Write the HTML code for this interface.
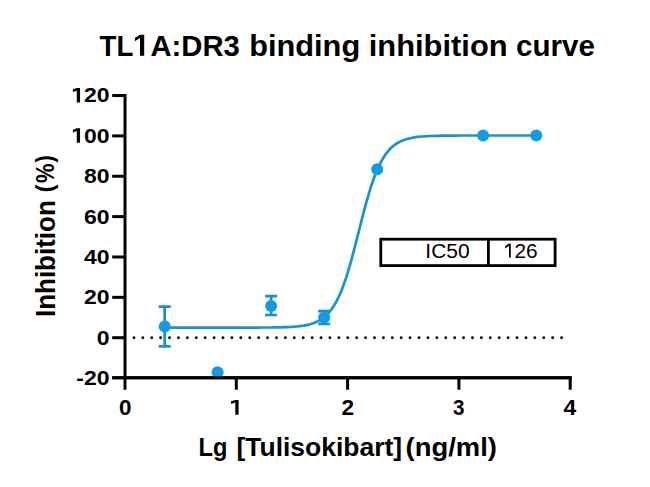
<!DOCTYPE html>
<html><head><meta charset="utf-8"><style>
html,body{margin:0;padding:0;background:#fff;}
body{width:650px;height:487px;overflow:hidden;font-family:"Liberation Sans",sans-serif;}
svg{display:block;}
</style></head><body>
<svg width="650" height="487" viewBox="0 0 650 487">
<g fill="#111"><circle cx="133.90" cy="337.7" r="1.45"/><circle cx="142.81" cy="337.7" r="1.45"/><circle cx="151.72" cy="337.7" r="1.45"/><circle cx="160.63" cy="337.7" r="1.45"/><circle cx="169.54" cy="337.7" r="1.45"/><circle cx="178.45" cy="337.7" r="1.45"/><circle cx="187.36" cy="337.7" r="1.45"/><circle cx="196.27" cy="337.7" r="1.45"/><circle cx="205.18" cy="337.7" r="1.45"/><circle cx="214.09" cy="337.7" r="1.45"/><circle cx="223.00" cy="337.7" r="1.45"/><circle cx="231.91" cy="337.7" r="1.45"/><circle cx="240.82" cy="337.7" r="1.45"/><circle cx="249.73" cy="337.7" r="1.45"/><circle cx="258.64" cy="337.7" r="1.45"/><circle cx="267.55" cy="337.7" r="1.45"/><circle cx="276.46" cy="337.7" r="1.45"/><circle cx="285.37" cy="337.7" r="1.45"/><circle cx="294.28" cy="337.7" r="1.45"/><circle cx="303.19" cy="337.7" r="1.45"/><circle cx="312.10" cy="337.7" r="1.45"/><circle cx="321.01" cy="337.7" r="1.45"/><circle cx="329.92" cy="337.7" r="1.45"/><circle cx="338.83" cy="337.7" r="1.45"/><circle cx="347.74" cy="337.7" r="1.45"/><circle cx="356.65" cy="337.7" r="1.45"/><circle cx="365.56" cy="337.7" r="1.45"/><circle cx="374.47" cy="337.7" r="1.45"/><circle cx="383.38" cy="337.7" r="1.45"/><circle cx="392.29" cy="337.7" r="1.45"/><circle cx="401.20" cy="337.7" r="1.45"/><circle cx="410.11" cy="337.7" r="1.45"/><circle cx="419.02" cy="337.7" r="1.45"/><circle cx="427.93" cy="337.7" r="1.45"/><circle cx="436.84" cy="337.7" r="1.45"/><circle cx="445.75" cy="337.7" r="1.45"/><circle cx="454.66" cy="337.7" r="1.45"/><circle cx="463.57" cy="337.7" r="1.45"/><circle cx="472.48" cy="337.7" r="1.45"/><circle cx="481.39" cy="337.7" r="1.45"/><circle cx="490.30" cy="337.7" r="1.45"/><circle cx="499.21" cy="337.7" r="1.45"/><circle cx="508.12" cy="337.7" r="1.45"/><circle cx="517.03" cy="337.7" r="1.45"/><circle cx="525.94" cy="337.7" r="1.45"/><circle cx="534.85" cy="337.7" r="1.45"/><circle cx="543.76" cy="337.7" r="1.45"/><circle cx="552.67" cy="337.7" r="1.45"/><circle cx="561.58" cy="337.7" r="1.45"/></g>
<g stroke="#000" stroke-width="3" fill="none" stroke-linecap="butt">
<path d="M125 94 V389.7"/>
<path d="M112.2 377.8 H571.7"/>
<path d="M112.2 337.70 H125"/>
<path d="M112.2 297.34 H125"/>
<path d="M112.2 256.98 H125"/>
<path d="M112.2 216.62 H125"/>
<path d="M112.2 176.26 H125"/>
<path d="M112.2 135.90 H125"/>
<path d="M112.2 95.54 H125"/>
<path d="M236.30 377.8 V389.7"/>
<path d="M347.60 377.8 V389.7"/>
<path d="M458.90 377.8 V389.7"/>
<path d="M570.20 377.8 V389.7"/>
</g>
<path d="M164.7 327.6 L167.0 327.6 L169.3 327.6 L171.7 327.6 L174.0 327.6 L176.3 327.6 L178.6 327.6 L181.0 327.6 L183.3 327.6 L185.6 327.6 L187.9 327.6 L190.2 327.6 L192.6 327.6 L194.9 327.6 L197.2 327.6 L199.5 327.6 L201.9 327.6 L204.2 327.6 L206.5 327.6 L208.8 327.6 L211.1 327.6 L213.5 327.6 L215.8 327.6 L218.1 327.6 L220.4 327.6 L222.8 327.6 L225.1 327.6 L227.4 327.6 L229.7 327.6 L232.1 327.6 L234.4 327.6 L236.7 327.6 L239.0 327.6 L241.3 327.6 L243.7 327.6 L246.0 327.6 L248.3 327.6 L250.6 327.6 L253.0 327.6 L255.3 327.6 L257.6 327.6 L259.9 327.6 L262.2 327.5 L264.6 327.5 L266.9 327.5 L269.2 327.5 L271.5 327.5 L273.9 327.4 L276.2 327.4 L278.5 327.4 L280.8 327.3 L283.1 327.2 L285.5 327.2 L287.8 327.1 L290.1 327.0 L292.4 326.8 L294.8 326.7 L297.1 326.5 L299.4 326.2 L301.7 325.9 L304.0 325.6 L306.4 325.1 L308.7 324.6 L311.0 324.0 L313.3 323.2 L315.7 322.3 L318.0 321.3 L320.3 320.0 L322.6 318.4 L325.0 316.6 L327.3 314.4 L329.6 311.8 L331.9 308.8 L334.2 305.3 L336.6 301.2 L338.9 296.5 L341.2 291.2 L343.5 285.2 L345.9 278.5 L348.2 271.2 L350.5 263.2 L352.8 254.7 L355.1 245.9 L357.5 236.7 L359.8 227.5 L362.1 218.4 L364.4 209.4 L366.8 200.9 L369.1 192.9 L371.4 185.5 L373.7 178.7 L376.0 172.6 L378.4 167.2 L380.7 162.4 L383.0 158.3 L385.3 154.7 L387.7 151.6 L390.0 149.0 L392.3 146.8 L394.6 144.9 L396.9 143.3 L399.3 142.0 L401.6 140.9 L403.9 140.0 L406.2 139.2 L408.6 138.6 L410.9 138.0 L413.2 137.6 L415.5 137.2 L417.9 136.9 L420.2 136.7 L422.5 136.5 L424.8 136.3 L427.1 136.2 L429.5 136.0 L431.8 136.0 L434.1 135.9 L436.4 135.8 L438.8 135.8 L441.1 135.7 L443.4 135.7 L445.7 135.6 L448.0 135.6 L450.4 135.6 L452.7 135.6 L455.0 135.6 L457.3 135.6 L459.7 135.5 L462.0 135.5 L464.3 135.5 L466.6 135.5 L468.9 135.5 L471.3 135.5 L473.6 135.5 L475.9 135.5 L478.2 135.5 L480.6 135.5 L482.9 135.5 L485.2 135.5 L487.5 135.5 L489.8 135.5 L492.2 135.5 L494.5 135.5 L496.8 135.5 L499.1 135.5 L501.5 135.5 L503.8 135.5 L506.1 135.5 L508.4 135.5 L510.8 135.5 L513.1 135.5 L515.4 135.5 L517.7 135.5 L520.0 135.5 L522.4 135.5 L524.7 135.5 L527.0 135.5 L529.3 135.5 L531.7 135.5 L534.0 135.5 L536.3 135.5" fill="none" stroke="#1a92cf" stroke-width="2.7" stroke-linejoin="round"/>
<g stroke="#1590cf" stroke-width="2.7" fill="none">
<path d="M164.7 306.7 V346.4 M158.7 306.7 H170.7 M158.7 346.4 H170.7"/>
<path d="M271.1 296.2 V315.0 M265.1 296.2 H277.1 M265.1 315.0 H277.1"/>
<path d="M324.1 311.1 V324.0 M318.1 311.1 H330.1 M318.1 324.0 H330.1"/>
</g>
<g fill="#0e9de4">
<circle cx="164.7" cy="326.4" r="6"/>
<circle cx="217.6" cy="372.3" r="6"/>
<circle cx="271.1" cy="306.1" r="6"/>
<circle cx="324.1" cy="317.6" r="6"/>
<circle cx="377.2" cy="169.3" r="6"/>
<circle cx="483.1" cy="135.4" r="6"/>
<circle cx="536.3" cy="135.4" r="6"/>
</g>
<path d="M112.2 377.8 H571.7" stroke="#000" stroke-width="3"/>
<g stroke="#000" stroke-width="2.8" fill="#fff"><rect x="380.8" y="239.2" width="174.3" height="26.4"/><path d="M488.4 239.2 V265.6"/></g>
<text transform="translate(425.35 257.65) scale(1.0247 1.0200)" font-family="Liberation Sans" font-weight="normal" font-size="20.5">IC50</text>
<path d="M505.10 246.30 L509.00 243.50 H510.80 V257.60 H509.00 V245.80 L505.10 248.60 Z" fill="#000"/>
<text transform="translate(514.48 257.65) scale(1.0169 1.0200)" font-family="Liberation Sans" font-weight="normal" font-size="20.5">26</text>
<text transform="translate(99.62 55.80) scale(0.9262 1.0000)" font-family="Liberation Sans" font-weight="bold" font-size="29.8">TL</text>
<path d="M134.90 37.90 L140.00 34.70 H144.20 V55.80 H140.00 V38.10 L134.90 41.30 Z" fill="#000"/>
<text transform="translate(150.46 55.80) scale(0.9815 1.0000)" font-family="Liberation Sans" font-weight="bold" font-size="29.8">A:DR3</text>
<text transform="translate(249.13 55.80) scale(1.0329 1.0000)" font-family="Liberation Sans" font-weight="bold" font-size="29.8">binding</text>
<text transform="translate(368.73 55.80) scale(1.0365 1.0000)" font-family="Liberation Sans" font-weight="bold" font-size="29.8">inhibition</text>
<text transform="translate(516.06 55.80) scale(0.9929 1.0000)" font-family="Liberation Sans" font-weight="bold" font-size="29.8">curve</text>
<path d="M72.90 89.34 L76.80 87.94 H80.05 V102.49 H76.80 V90.64 L72.90 92.04 Z" fill="#000"/>
<text transform="translate(83.99 102.49) scale(1.0700 0.9700)" font-family="Liberation Sans" font-weight="bold" font-size="21.5">20</text>
<path d="M72.90 129.70 L76.80 128.30 H80.05 V142.85 H76.80 V131.00 L72.90 132.40 Z" fill="#000"/>
<text transform="translate(83.99 142.85) scale(1.0700 0.9700)" font-family="Liberation Sans" font-weight="bold" font-size="21.5">00</text>
<text transform="translate(83.99 183.21) scale(1.0700 0.9700)" font-family="Liberation Sans" font-weight="bold" font-size="21.5">80</text>
<text transform="translate(83.99 223.57) scale(1.0700 0.9700)" font-family="Liberation Sans" font-weight="bold" font-size="21.5">60</text>
<text transform="translate(83.99 263.93) scale(1.0700 0.9700)" font-family="Liberation Sans" font-weight="bold" font-size="21.5">40</text>
<text transform="translate(83.99 304.29) scale(1.0700 0.9700)" font-family="Liberation Sans" font-weight="bold" font-size="21.5">20</text>
<text transform="translate(96.83 344.65) scale(1.0700 0.9700)" font-family="Liberation Sans" font-weight="bold" font-size="21.5">0</text>
<text transform="translate(76.23 385.01) scale(1.0700 0.9700)" font-family="Liberation Sans" font-weight="bold" font-size="21.5">-20</text>
<text transform="translate(119.02 414.60) scale(1.0439 1.0000)" font-family="Liberation Sans" font-weight="bold" font-size="21.5">0</text>
<text transform="translate(341.41 414.60) scale(1.0537 1.0000)" font-family="Liberation Sans" font-weight="bold" font-size="21.5">2</text>
<text transform="translate(452.92 414.60) scale(0.9581 1.0000)" font-family="Liberation Sans" font-weight="bold" font-size="21.5">3</text>
<text transform="translate(563.43 414.60) scale(1.0696 1.0000)" font-family="Liberation Sans" font-weight="bold" font-size="21.5">4</text>
<path d="M231.10 401.30 L235.30 399.90 H238.60 V414.80 H235.30 V402.60 L231.10 404.00 Z" fill="#000"/>
<text transform="translate(198.46 456.30) scale(0.9345 1.0000)" font-family="Liberation Sans" font-weight="bold" font-size="25.3">Lg</text>
<text transform="translate(236.43 456.30) scale(1.0469 1.0000)" font-family="Liberation Sans" font-weight="bold" font-size="25.3">[Tulisokibart]</text>
<text transform="translate(405.55 456.30) scale(1.0838 1.0000)" font-family="Liberation Sans" font-weight="bold" font-size="25.3">(ng/ml)</text>
<text transform="translate(54.50 317.08) rotate(-90) scale(0.9627 1.0000)" font-family="Liberation Sans" font-weight="bold" font-size="27">Inhibition</text>
<text transform="translate(53.03 192.60) rotate(-90) scale(0.8800 0.8680)" font-family="Liberation Sans" font-weight="bold" font-size="27">(</text>
<text transform="translate(53.86 183.11) rotate(-90) scale(0.8133 0.9684)" font-family="Liberation Sans" font-weight="bold" font-size="27">%</text>
<text transform="translate(53.03 162.51) rotate(-90) scale(0.8267 0.8680)" font-family="Liberation Sans" font-weight="bold" font-size="27">)</text>
</svg>
</body></html>
